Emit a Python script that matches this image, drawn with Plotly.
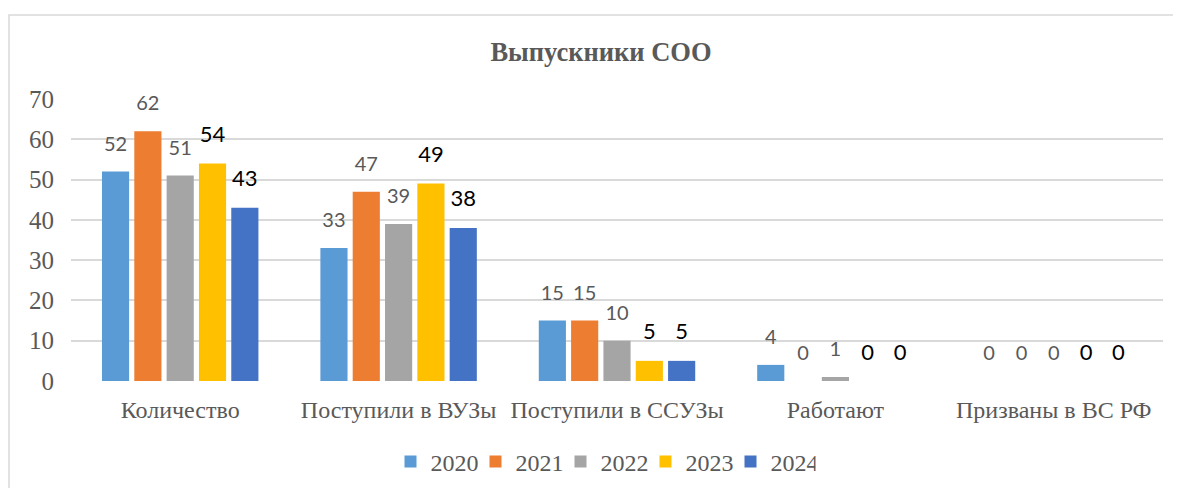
import plotly.graph_objects as go

categories = ["Количество", "Поступили в ВУЗы", "Поступили в ССУЗы", "Работают", "Призваны в ВС РФ"]
years = ["2020", "2021", "2022", "2023", "2024"]
v2020 = [52, 33, 15, 4, 0]
v2021 = [62, 47, 15, 0, 0]
v2022 = [51, 39, 10, 1, 0]
v2023 = [54, 49, 5, 0, 0]
v2024 = [43, 38, 5, 0, 0]
series = [v2020, v2021, v2022, v2023, v2024]
colors = ["#5B9BD5", "#ED7D31", "#A5A5A5", "#FFC000", "#4472C4"]
label_colors = ["#595959", "#595959", "#595959", "#000000", "#000000"]
label_sizes = [20, 20, 20, 22, 22]
y_ticks = [0, 10, 20, 30, 40, 50, 60, 70]

fig = go.Figure()
for yr, vals, c in zip(years, series, colors):
    fig.add_trace(go.Bar(
        name=yr, x=categories, y=vals, marker=dict(color=c, line=dict(width=0)),
        hoverinfo="skip",
    ))
for yr, vals, lc, ls in zip(years, series, label_colors, label_sizes):
    fig.add_trace(go.Scatter(
        name=yr, x=categories, y=vals, mode="markers+text", showlegend=False,
        marker=dict(size=24, color="rgba(0,0,0,0)"),
        text=[str(v) for v in vals], textposition="top center", cliponaxis=False,
        textfont=dict(family="Lato", size=ls, color=lc), hoverinfo="skip",
    ))

# The page body has an 8px margin, so layout pixel positions are offset by it
OFF = 8
W, H = 1181, 488
L, R, T, B = 71 - OFF, W - (1163 - OFF), 99 - OFF, H - (381 - OFF)
pw, ph = W - L - R, H - T - B

fig.update_layout(
    width=W, height=H,
    margin=dict(l=L, r=R, t=T, b=B, autoexpand=False),
    paper_bgcolor="white", plot_bgcolor="white",
    barmode="group", bargap=0.26, bargroupgap=0.16,
    scattermode="group", scattergap=0.26,
    title=dict(text="<b>Выпускники СОО</b>", x=(601 - OFF) / W, xref="container", xanchor="center",
               y=1 - (52 - OFF) / H, yref="container", yanchor="middle",
               font=dict(family="Liberation Serif", size=26.5, color="#595959")),
    xaxis=dict(showgrid=False, showline=False, zeroline=False, ticks="", automargin=False,
               tickfont=dict(family="Liberation Serif", size=24, color="#595959"),
               ticklabelstandoff=12),
    yaxis=dict(range=[0, 70], tickvals=y_ticks, showgrid=True, gridcolor="#D9D9D9", gridwidth=1.5,
               zeroline=False, showline=False, ticks="", automargin=False,
               tickfont=dict(family="Liberation Serif", size=25, color="#595959"),
               ticklabelstandoff=16),
    showlegend=True,
    legend=dict(orientation="h", x=(603 - OFF) / W, xref="container", xanchor="center",
                y=1 - (462 - OFF) / H, yref="container", yanchor="middle",
                font=dict(family="Liberation Serif", size=24, color="#595959"),
                itemwidth=30, entrywidth=40, traceorder="normal"),
    shapes=[dict(type="rect", xref="paper", yref="paper",
                 x0=(9 - OFF - L) / pw, x1=1.2, y0=-1.0, y1=(H - B - (15 - OFF)) / ph,
                 line=dict(color="#D9D9D9", width=1.5), fillcolor="rgba(0,0,0,0)", layer="below")],
)

fig.write_html("out.html")
